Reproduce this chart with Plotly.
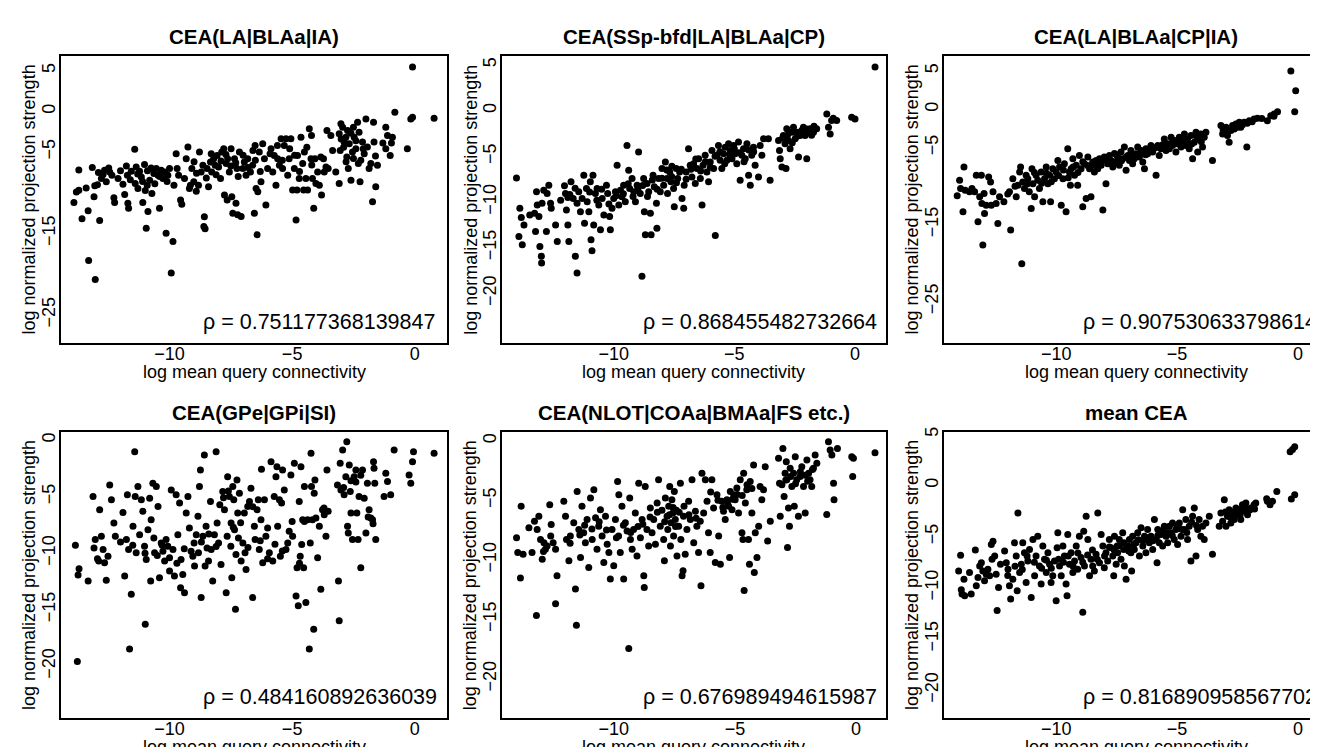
import plotly.graph_objects as go

W, H = 1318, 747

TITLES = ["CEA(LA|BLAa|IA)", "CEA(SSp-bfd|LA|BLAa|CP)", "CEA(LA|BLAa|CP|IA)",
          "CEA(GPe|GPi|SI)", "CEA(NLOT|COAa|BMAa|FS etc.)", "mean CEA"]
RHO = ["0.751177368139847", "0.868455482732664", "0.907530633798614",
       "0.484160892636039", "0.676989494615987", "0.816890958567702"]
X_TITLE = "log mean query connectivity"
Y_TITLE = "log normalized projection strength"
X_TICKS = [-10, -5, 0]
Y_TICKS = [[5, 0, -5, -15, -25], [5, 0, -5, -10, -15, -20], [5, 0, -5, -15, -25],
           [0, -5, -10, -15, -20], [0, -5, -10, -15, -20], [5, 0, -5, -10, -15, -20]]

P1_X = [-13.9,-13.7,-13.8,-13.7,-13.57,-13.32,-13.3,-13.15,-13.08,-13.03,-13.05,-12.94,-12.85,-12.78,-12.71,-12.65,-12.58,-12.48,-12.44,-12.35,-12.27,-12.24,
        -12.1,-11.9,-11.83,-11.76,-11.72,-11.7,-11.67,-11.56,-11.42,-11.4,-11.36,-11.29,-11.22,-11.15,-11.09,-11.02,-10.99,-10.95,-10.91,-10.88,-10.81,-10.75,-10.72,-10.64,-10.54,-10.47,
        -10.41,-10.34,-10.27,-10.2,-10.14,-10.07,-10.0,-9.86,-9.93,-9.82,-9.73,-9.69,-9.63,-9.55,-9.5,-9.39,-9.32,-9.25,-9.19,-9.15,-9.09,-9.01,-8.91,-8.82,-8.78,-8.71,-8.64,-8.6,-8.58,-8.55,-8.47,
        -8.41,-8.33,-8.28,-8.2,-8.14,-8.06,-8.0,-7.92,-7.87,-7.79,-7.76,-7.69,-7.65,-7.63,-7.56,-7.49,-7.46,-7.42,-7.35,-7.29,-7.25,-7.22,-7.15,-7.08,-7.01,-6.95,-6.88,-6.81,-6.7,-6.61,-6.54,-6.51,-6.47,-6.43,-6.4,-6.34,-6.27,
        -6.2,-6.13,-6.07,-6.0,-5.86,-5.79,-5.73,-5.66,-5.59,-5.52,-5.45,-5.39,-5.32,-5.25,-5.18,-5.12,-5.05,-4.98,-4.91,-4.84,-4.8,-4.78,-4.71,-4.64,-4.57,-4.53,-4.5,-4.44,-4.37,-4.3,-4.23,-4.21,-4.17,-4.12,-4.07,
        -4.03,-3.96,-3.89,-3.83,-3.8,-3.72,-3.69,-3.62,-3.58,-3.53,-3.42,-3.35,-3.22,-3.08,-3.08,-3.04,-3.01,-2.94,-2.88,-2.81,-2.74,-2.77,-2.71,-2.67,-2.6,-2.54,-2.5,-2.47,-2.4,-2.33,-2.27,-2.23,
        -2.2,-2.13,-2.06,-1.99,-1.93,-1.86,-1.79,-1.72,-1.68,-1.66,-1.59,-1.52,-1.18,-1.11,-1.0,-0.91,-1.18,-0.81,-0.3,-0.16,-0.09,-0.09,0.79,
        -11.3,-11.1,-10.9,-10.6,-10.4,-10.1,-11.6,-12.0,-12.9,-13.4,-9.0,-8.9,-8.5,-8.3,-8.1,-7.9,-7.7,-7.5,-7.3,-7.2,-7.0,-6.8,-6.6,-6.5,-6.3,
        -5.9,-5.6,-5.4,-5.1,-4.9,-4.7,-4.4,-4.2,-3.0,-2.9,-2.8,-2.6,-2.5,-2.4,-2.3,-2.1,-1.6,-1.3,-0.95]
P1_Y = [-11.2,-7.2,-9.9,-9.7,-13.2,-12.2,-18.3,-6.9,-10.5,-20.65,-9.15,-9.0,-13.4,-8.25,-7.76,-7.24,-8.66,-6.95,-7.44,-7.85,-10.6,-11.2,
        -8.25,-8.94,-10.2,-6.7,-7.85,-11.3,-11.9,-7.36,-4.67,-8.86,-6.83,-9.47,-7.36,-8.05,-11.18,-6.54,-9.72,-14.35,-9.07,-12.3,-8.46,-6.95,-10.1,-7.64,-7.03,-7.85,
        -11.9,-7.24,-8.25,-7.44,-14.96,-7.85,-7.03,-15.98,-19.84,-9.07,-5.2,-7.03,-7.85,-10.9,-11.4,-8.25,-5.81,-4.39,-9.47,-9.07,-7.03,-8.66,-9.8,-9.07,-5.0,-7.44,-6.63,-14.15,-12.93,-14.43,-7.03,
        -9.27,-6.22,-7.44,-5.81,-6.63,-5.41,-6.83,-8.25,-5.0,-4.59,-10.28,-6.42,-10.89,-5.81,-7.44,-4.59,-10.49,-12.5,-5.81,-11.3,-7.03,-12.7,-5.0,-12.9,-7.03,-6.22,-7.85,-5.81,-7.44,-6.63,-12.5,-4.19,-9.47,-15.16,-9.88,-5.0,-8.66,
        -3.98,-5.81,-11.5,-7.03,-4.59,-7.44,-5.41,-9.07,-5.81,-6.63,-3.37,-7.03,-4.19,-3.37,-7.85,-5.81,-3.37,-9.67,-7.03,-13.33,-9.67,-5.41,-8.25,-3.17,-6.42,-9.67,-5.0,-8.25,-9.67,-2.15,-5.81,-2.97,-8.25,-11.9,-5.81,
        -8.86,-7.44,-9.07,-5.61,-10.28,-5.81,-7.44,-6.83,-2.36,-7.03,-2.97,-4.8,-7.44,-2.76,-8.86,-4.8,-1.54,-1.95,-3.78,-3.17,-2.36,-5.61,-7.03,-3.98,-8.46,-5.0,-1.95,-3.17,-4.59,-1.34,-2.56,-8.66,
        -6.02,-3.78,-5.2,-0.93,-4.39,-7.03,-6.42,-11.1,-1.34,-3.78,-9.27,-6.63,-1.95,-2.97,-5.41,-3.17,-4.59,-0.12,-4.59,-0.93,-0.73,5.45,-0.85,
        -7.7,-8.6,-7.3,-8.9,-8.0,-8.6,-8.4,-7.3,-7.5,-9.4,-6.2,-7.6,-8.2,-5.2,-7.8,-6.1,-5.3,-6.7,-6.3,-8.0,-5.4,-6.9,-4.8,-6.0,-7.4,
        -5.2,-4.2,-6.0,-4.6,-5.4,-7.4,-4.4,-6.6,-3.4,-4.4,-6.2,-2.7,-5.8,-3.6,-6.4,-4.6,-5.5,-3.9,-3.9]

P2_X = [-14.03,-13.93,-13.89,-13.83,-13.79,-13.72,-13.48,-13.28,-13.24,-13.2,-13.17,-13.1,-13.06,-13.0,-12.99,-12.97,-12.9,-12.79,-12.76,-12.69,
        -12.62,-12.59,-12.41,-12.34,-12.04,-12.0,-11.96,-11.9,-11.86,-11.82,-11.77,-11.68,-11.59,-11.52,-11.52,-11.45,-11.38,-11.31,-11.24,-11.21,
        -11.13,-11.1,-11.03,-10.97,-10.94,-10.9,-10.86,-10.83,-10.76,-10.69,-10.62,-10.55,-10.48,-10.41,-10.3,-10.25,-10.17,-10.14,-10.07,-10.0,
        -9.93,-9.86,-9.79,-9.72,-9.66,-9.59,-9.52,-9.45,-9.38,-9.34,-9.24,-9.17,-9.1,-9.03,-8.97,-8.9,-8.83,-8.76,-8.73,-8.69,
        -8.62,-8.55,-8.48,-8.45,-8.37,-8.32,-8.23,-8.21,-8.14,-8.07,-8.0,-7.93,-7.86,-7.79,-7.77,-7.68,-7.63,-7.59,-7.52,-7.49,
        -7.41,-7.35,-7.27,-7.17,-7.1,-7.08,-7.0,-6.9,-6.83,-6.76,-6.69,-6.62,-6.55,-6.48,-6.41,-6.34,-6.3,-6.21,-6.14,-6.07,
        -6.0,-5.93,-5.86,-5.79,-5.72,-5.66,-5.59,-5.52,-5.45,-5.38,-5.31,-5.24,-5.17,-5.1,-5.03,-4.97,-4.9,-4.83,-4.76,-4.69,
        -4.62,-4.55,-4.48,-4.41,-4.34,-4.28,-4.21,-4.14,-4.0,-3.93,-3.86,-3.79,-3.59,-3.52,-3.17,-3.13,-3.1,-3.03,-2.97,-2.9,
        -2.86,-2.83,-2.76,-2.69,-2.62,-2.55,-2.48,-2.41,-2.34,-2.28,-2.21,-2.14,-2.07,-2.0,-1.93,-1.86,-1.72,-1.59,-1.17,-1.1,-1.03,-0.97,-0.9,-0.76,-0.14,0.0,0.83,
        -12.2,-11.9,-11.6,-11.0,-10.7,-10.5,-10.2,-9.9,-9.6,-9.4,-9.2,-9.0,-8.8,-8.6,-8.4,-8.2,-8.0,-7.8,-7.6,-7.4,-7.2,-7.0,
        -6.8,-6.6,-6.4,-6.2,-6.0,-5.8,-5.6,-5.4,-5.2,-5.0,-4.8,-4.6,-4.4,-4.2,-3.0,-2.8,-2.6,-2.4,-2.2,-2.0,-1.8,-1.7]
P2_Y = [-7.36,-13.77,-10.69,-11.7,-14.67,-12.5,-11.41,-11.23,-13.22,-8.88,-10.33,-11.59,-14.86,-15.94,-16.67,-10.14,-8.7,-13.22,-9.06,-8.15,
        -10.14,-10.69,-12.5,-14.31,-8.22,-9.06,-10.87,-12.5,-14.31,-9.17,-7.79,-9.6,-15.94,-17.75,-10.14,-8.88,-11.05,-9.6,-7.07,-12.32,
        -8.51,-9.96,-11.05,-7.79,-14.13,-15.33,-7.07,-12.5,-9.06,-8.51,-10.33,-13.04,-9.6,-11.41,-8.15,-9.06,-11.59,-13.04,-10.69,-9.6,
        -8.88,-5.98,-10.33,-8.7,-9.42,-8.15,-9.96,-3.8,-6.52,-8.51,-7.43,-8.88,-9.96,-8.15,-4.53,-9.06,-18.12,-7.43,-11.05,-13.59,
        -7.97,-8.88,-11.23,-13.59,-7.07,-8.33,-10.14,-12.86,-7.43,-8.88,-6.34,-8.15,-5.62,-7.43,-9.06,-6.7,-7.79,-6.07,-8.51,-10.51,
        -6.34,-7.43,-6.7,-9.6,-10.69,-8.15,-6.7,-4.17,-5.98,-7.25,-5.8,-7.97,-6.34,-5.25,-7.43,-10.33,-5.98,-4.89,-6.7,-7.79,
        -5.62,-4.35,-6.34,-13.66,-4.89,-3.8,-5.43,-6.34,-4.71,-3.99,-5.43,-3.62,-4.35,-5.25,-3.8,-4.71,-5.8,-3.44,-7.61,-4.89,
        -4.17,-5.25,-3.62,-7.07,-8.15,-4.89,-3.99,-5.98,-7.25,-3.8,-4.89,-3.08,-3.08,-7.61,-3.26,-4.35,-5.25,-6.16,-2.72,-3.62,
        -6.34,-1.99,-3.26,-4.17,-2.36,-1.81,-3.08,-2.36,-5.07,-2.72,-2.17,-1.81,-2.72,-5.25,-2.36,-1.99,-2.36,-1.99,-0.36,-1.81,-2.54,-1.09,-0.83,-1.09,-0.72,-0.91,4.78,
        -9.8,-9.5,-8.5,-8.9,-9.8,-8.6,-10.2,-9.3,-9.1,-8.0,-9.4,-8.6,-8.2,-9.4,-7.6,-8.6,-7.4,-6.5,-7.2,-7.9,-6.4,-7.5,
        -6.4,-5.3,-6.6,-5.6,-6.2,-5.0,-4.5,-5.8,-4.8,-4.2,-4.6,-5.6,-4.3,-4.5,-3.0,-2.7,-3.5,-2.8,-2.5,-2.0,-2.7,-1.7]

P3_X = [-14.09,-13.99,-13.95,-13.85,-13.81,-13.76,-13.58,-13.48,-13.37,-13.3,-13.23,-13.16,-13.09,-13.07,-13.03,-12.98,-12.96,-12.89,-12.79,-12.71,
        -12.68,-12.61,-12.48,-12.41,-12.34,-12.16,-11.93,-11.88,-11.79,-11.65,-11.58,-11.51,-11.47,-11.42,-11.38,-11.31,-11.24,-11.17,-11.11,-11.03,
        -11.0,-10.96,-10.89,-10.83,-10.76,-10.69,-10.62,-10.55,-10.48,-10.41,-10.34,-10.27,-10.23,-10.14,-10.07,-10.0,-9.93,-9.86,-9.79,-9.72,
        -9.66,-9.59,-9.52,-9.45,-9.41,-9.38,-9.31,-9.24,-9.17,-9.11,-9.04,-8.97,-8.9,-8.83,-8.76,-8.69,-8.62,-8.56,-8.49,-8.42,
        -8.35,-8.28,-8.21,-8.14,-8.07,-8.01,-7.94,-7.87,-7.8,-7.73,-7.66,-7.59,-7.52,-7.46,-7.39,-7.32,-7.25,-7.18,-7.11,-7.04,
        -6.97,-6.91,-6.84,-6.77,-6.7,-6.63,-6.56,-6.49,-6.42,-6.35,-6.29,-6.22,-6.08,-6.01,-5.87,-5.8,-5.74,-5.67,-5.53,-5.46,
        -5.39,-5.32,-5.25,-5.19,-5.12,-5.05,-4.98,-4.91,-4.84,-4.77,-4.7,-4.64,-4.57,-4.5,-4.43,-4.36,-4.29,-4.22,-4.15,-4.09,
        -4.02,-3.95,-3.88,-3.81,-3.54,-3.19,-3.12,-3.05,-2.98,-2.92,-2.85,-2.78,-2.71,-2.64,-2.57,-2.5,-2.43,-2.37,-2.23,-2.12,-2.02,-1.82,-1.68,-1.27,-1.13,-0.99,-0.85,-0.3,-0.14,-0.1,0.77,
        -12.0,-11.7,-11.2,-10.9,-10.6,-10.4,-10.2,-9.9,-9.7,-9.5,-9.3,-9.1,-8.9,-8.7,-8.5,-8.3,-8.1,-7.9,-7.7,-7.5,-7.3,-7.1,-6.9,
        -6.7,-6.5,-6.3,-6.1,-5.9,-5.6,-5.4,-5.2,-5.0,-4.8,-4.6,-4.4,-4.2,-4.0,-3.1,-2.9,-2.7,-2.5,-2.3,-2.1,-1.9,-1.5,-1.0]
P3_Y = [-11.25,-9.22,-10.3,-13.32,-7.5,-10.52,-10.73,-10.3,-10.73,-8.58,-14.61,-11.38,-8.58,-12.24,-17.63,-10.95,-13.53,-12.46,-8.79,-9.44,
        -12.46,-10.73,-12.24,-14.83,-11.38,-12.03,-10.73,-15.69,-9.01,-11.38,-9.87,-8.15,-7.5,-20.09,-9.44,-10.3,-8.58,-9.01,-10.73,-12.89,
        -7.72,-9.66,-11.38,-8.58,-9.22,-10.3,-8.15,-12.03,-9.01,-7.5,-9.66,-8.58,-12.03,-7.72,-9.01,-8.15,-6.64,-7.5,-12.46,-9.01,
        -7.07,-13.32,-5.13,-8.15,-9.87,-7.72,-6.42,-8.58,-7.28,-9.87,-5.99,-7.72,-12.67,-7.07,-11.59,-6.21,-7.72,-11.38,-6.85,-8.15,
        -6.64,-7.72,-6.42,-7.28,-13.1,-6.21,-9.66,-7.07,-5.99,-6.64,-7.5,-5.73,-6.85,-6.21,-7.28,-5.56,-6.42,-4.91,-7.93,-5.99,
        -6.64,-5.34,-7.07,-6.42,-5.78,-4.91,-6.21,-5.34,-6.85,-7.72,-5.13,-5.78,-4.7,-5.56,-8.58,-4.7,-5.99,-5.13,-3.84,-5.34,
        -4.48,-5.13,-3.62,-4.7,-4.05,-5.56,-4.48,-3.62,-4.91,-4.05,-3.19,-4.7,-3.84,-5.13,-3.41,-6.42,-4.27,-2.97,-5.56,-3.84,
        -3.19,-4.91,-3.62,-2.97,-6.64,-2.11,-3.19,-2.54,-2.33,-3.41,-4.27,-2.76,-2.11,-2.54,-1.9,-2.33,-1.68,-2.33,-1.68,-4.91,-1.47,-1.25,-1.16,-1.47,-0.82,-0.6,-0.3,5.0,-0.3,2.41,5.52,
        -11.0,-10.0,-9.7,-8.2,-9.6,-8.3,-9.4,-8.6,-7.9,-8.9,-7.5,-8.2,-6.8,-7.3,-7.3,-7.1,-6.7,-6.5,-7.0,-5.9,-6.7,-6.2,-5.9,
        -6.0,-5.7,-5.9,-5.2,-5.0,-4.6,-4.9,-4.3,-4.1,-4.3,-4.0,-4.5,-3.5,-4.2,-2.7,-2.9,-2.5,-2.0,-2.0,-1.8,-1.6,-1.2,-0.9]

P4_X = [-13.84,-13.76,-13.73,-13.69,-13.32,-13.12,-13.08,-13.03,-12.94,-12.89,-12.85,-12.78,-12.71,-12.65,-12.58,-12.51,-12.44,-12.37,-12.27,-12.21,
        -11.9,-11.83,-11.76,-11.72,-11.67,-11.63,-11.56,-11.49,-11.42,-11.4,-11.36,-11.29,-11.22,-11.15,-11.09,-11.02,-10.99,-10.95,-10.88,-10.81,
        -10.77,-10.75,-10.68,-10.64,-10.61,-10.54,-10.47,-10.41,-10.34,-10.27,-10.2,-10.14,-10.07,-10.0,-9.93,-9.86,-9.8,-9.73,-9.66,-9.59,
        -9.55,-9.53,-9.46,-9.39,-9.32,-9.25,-9.19,-9.12,-9.05,-8.98,-8.91,-8.84,-8.82,-8.78,-8.74,-8.71,-8.64,-8.58,-8.55,-8.51,
        -8.47,-8.41,-8.33,-8.3,-8.24,-8.17,-8.1,-8.06,-8.0,-7.95,-7.9,-7.83,-7.76,-7.69,-7.65,-7.63,-7.56,-7.5,-7.49,-7.46,
        -7.42,-7.38,-7.35,-7.31,-7.29,-7.25,-7.22,-7.19,-7.15,-7.08,-7.01,-6.95,-6.92,-6.88,-6.81,-6.74,-6.68,-6.61,-6.54,-6.51,
        -6.43,-6.38,-6.34,-6.27,-6.25,-6.2,-6.13,-6.07,-6.0,-5.93,-5.86,-5.79,-5.73,-5.66,-5.62,-5.59,-5.52,-5.48,-5.43,-5.39,
        -5.32,-5.25,-5.18,-5.12,-5.05,-4.98,-4.91,-4.84,-4.8,-4.75,-4.71,-4.67,-4.64,-4.61,-4.57,-4.53,-4.5,-4.44,-4.37,-4.3,
        -4.26,-4.23,-4.21,-4.17,-4.12,-4.07,-4.03,-3.96,-3.89,-3.83,-3.76,-3.69,-3.62,-3.58,-3.53,-3.15,-3.11,-3.08,-3.04,-3.01,
        -2.94,-2.88,-2.81,-2.77,-2.74,-2.71,-2.67,-2.63,-2.6,-2.54,-2.47,-2.4,-2.36,-2.31,-2.27,-2.2,-2.13,-2.06,-1.99,-1.93,-1.86,-1.79,-1.72,-1.68,-1.66,-1.63,-1.59,-1.25,-1.18,-1.11,-0.98,-0.84,-0.23,-0.16,-0.09,-0.05,0.79,
        -12.0,-11.5,-11.0,-10.5,-10.3,-10.0,-9.7,-9.4,-9.0,-8.7,-8.4,-8.1,-7.8,-7.6,-7.4,-7.1,-6.8,
        -6.6,-6.3,-6.0,-5.7,-5.4,-5.0,-4.7,-4.5,-4.1,-3.7,-2.9,-2.6,-2.4,-2.2,-1.9,-1.7]
P4_Y = [-9.3,-19.59,-11.94,-11.38,-12.46,-4.99,-9.53,-8.8,-10.5,-10.7,-6.16,-8.5,-9.68,-10.85,-12.4,-10.26,-3.96,-5.28,-7.33,-8.5,
        -6.39,-12.02,-8.8,-4.84,-9.68,-18.48,-13.64,-7.62,-1.03,-4.99,-9.97,-4.11,-8.36,-5.28,-6.3,-9.38,-16.28,-10.56,-7.92,-5.13,
        -12.46,-7.04,-3.81,-8.65,-9.97,-4.11,-5.87,-12.17,-9.09,-9.82,-10.7,-8.8,-9.38,-11.58,-4.4,-9.68,-12.02,-4.84,-8.36,-5.57,
        -13.05,-10.56,-11.88,-13.49,-6.45,-4.99,-7.77,-9.82,-10.26,-11.14,-8.36,-6.74,-9.97,-4.11,-2.64,-13.93,-8.5,-1.32,-11.14,-7.62,
        -9.53,-10.7,-5.43,-9.68,-12.46,-8.36,-1.03,-7.33,-9.09,-5.72,-11.0,-4.55,-6.16,-13.49,-8.5,-3.23,-4.99,-9.38,-7.33,-12.17,
        -4.11,-5.28,-7.92,-14.96,-10.12,-3.52,-6.45,-8.65,-4.69,-10.7,-9.09,-6.45,-9.97,-11.44,-5.87,-5.43,-4.25,-13.93,-7.62,-8.8,
        -6.16,-5.28,-9.68,-7.04,-2.58,-10.85,-5.28,-8.5,-7.77,-9.97,-1.91,-10.7,-4.99,-3.23,-2.35,-7.62,-5.28,-10.26,-5.57,-2.64,
        -4.4,-9.68,-9.09,-8.06,-3.08,-8.5,-2.05,-13.78,-11.29,-14.66,-5.43,-10.26,-2.35,-9.24,-7.04,-11.29,-4.11,-14.37,-7.04,-18.48,
        -9.09,-1.17,-4.11,-7.04,-16.72,-3.52,-6.89,-10.41,-7.62,-13.2,-6.16,-6.6,-8.5,-2.64,-6.3,-3.96,-12.46,-15.98,-2.05,-4.4,
        -0.88,-4.84,-3.23,-0.15,-7.62,-8.21,-2.2,-4.55,-6.45,-8.8,-3.23,-2.64,-6.45,-8.8,-4.99,-11.29,-2.64,-5.13,-8.21,-3.81,-6.16,-6.89,-7.04,-1.91,-2.49,-3.81,-8.8,-4.99,-2.93,-3.67,-4.84,-0.88,-3.08,-3.81,-1.91,-1.03,-1.17,
        -9.0,-9.3,-10.0,-10.2,-9.3,-10.4,-10.9,-9.6,-9.1,-9.0,-8.3,-9.4,-5.1,-4.5,-7.7,-7.3,-9.5,
        -5.9,-8.9,-10.5,-9.2,-9.8,-7.2,-10.9,-7.2,-4.7,-6.0,-4.2,-3.6,-3.7,-3.1,-6.8,-7.4]

P5_X = [-14.01,-13.96,-13.85,-13.82,-13.74,-13.5,-13.37,-13.27,-13.19,-13.16,-13.09,-13.02,-12.95,-12.88,-12.82,-12.75,-12.64,-12.58,-12.5,-12.4,
        -12.34,-12.4,-12.06,-11.99,-11.95,-11.85,-11.79,-11.65,-11.58,-11.54,-11.51,-11.44,-11.37,-11.31,-11.24,-11.17,-11.1,-11.03,-10.96,-10.89,
        -10.82,-10.75,-10.69,-10.62,-10.55,-10.48,-10.41,-10.34,-10.27,-10.2,-10.14,-10.07,-10.0,-9.93,-9.89,-9.84,-9.79,-9.73,-9.66,-9.59,
        -9.52,-9.45,-9.38,-9.34,-9.31,-9.24,-9.18,-9.11,-9.04,-8.97,-8.9,-8.83,-8.76,-8.74,-8.7,-8.63,-8.56,-8.49,-8.42,-8.35,
        -8.28,-8.21,-8.15,-8.08,-8.01,-7.94,-7.91,-7.87,-7.8,-7.77,-7.73,-7.69,-7.66,-7.64,-7.6,-7.56,-7.53,-7.5,-7.46,-7.42,
        -7.39,-7.32,-7.25,-7.23,-7.18,-7.14,-7.12,-7.05,-6.98,-6.91,-6.84,-6.77,-6.7,-6.63,-6.57,-6.5,-6.43,-6.4,-6.36,-6.29,
        -6.22,-6.15,-6.09,-6.02,-5.95,-5.88,-5.81,-5.74,-5.67,-5.6,-5.54,-5.47,-5.4,-5.33,-5.26,-5.22,-5.19,-5.12,-5.05,-4.99,
        -4.92,-4.85,-4.78,-4.71,-4.67,-4.64,-4.62,-4.57,-4.51,-4.44,-4.4,-4.37,-4.3,-4.23,-4.2,-4.16,-4.09,-4.02,-3.96,-3.89,
        -3.82,-3.75,-3.65,-3.54,-3.2,-3.16,-3.13,-3.06,-3.02,-2.97,-2.93,-2.88,-2.86,-2.83,-2.79,-2.75,-2.72,-2.65,-2.58,-2.55,
        -2.51,-2.45,-2.38,-2.31,-2.24,-2.17,-2.1,-2.03,-1.96,-1.9,-1.83,-1.76,-1.69,-1.62,-1.21,-1.14,-1.07,-1.0,-0.93,-0.91,-0.77,-0.18,-0.14,-0.11,0.78,
        -12.9,-12.6,-11.8,-11.4,-11.2,-10.9,-10.6,-10.3,-9.8,-9.6,-9.3,-9.0,-8.8,-8.5,-8.2,-7.9,-7.7,-7.55,-7.45,-7.3,
        -7.1,-6.9,-6.6,-6.0,-5.7,-5.5,-5.3,-5.1,-4.9,-4.7,-4.5,-4.3,-2.9,-2.7,-2.5,-2.3,-2.1,-2.0,-1.8]
P5_Y = [-8.14,-9.39,-11.53,-5.5,-9.53,-7.31,-9.39,-6.75,-14.67,-7.44,-6.33,-8.28,-9.94,-8.56,-9.11,-8.83,-5.36,-7.03,-8.56,-9.11,
        -11.33,-13.69,-5.08,-6.33,-8.28,-10.08,-8.0,-6.89,-12.44,-15.5,-4.25,-7.44,-9.81,-5.5,-7.72,-8.56,-6.61,-10.64,-4.81,-8.28,
        -4.11,-6.47,-9.11,-7.17,-5.78,-8.0,-10.22,-6.33,-8.69,-9.39,-11.61,-7.44,-10.5,-6.61,-8.14,-3.42,-4.53,-9.39,-5.5,-11.61,
        -6.89,-7.58,-17.44,-4.81,-8.28,-9.11,-7.44,-6.06,-9.67,-3.56,-8.14,-6.61,-11.33,-12.31,-3.83,-7.44,-8.83,-5.64,-7.72,-6.61,
        -8.69,-5.22,-3.28,-7.17,-5.83,-8.28,-10.08,-4.81,-6.33,-7.44,-5.5,-3.83,-8.83,-6.89,-4.94,-6.06,-8.0,-4.25,-6.61,-5.83,
        -9.67,-7.17,-3.56,-8.28,-11.33,-10.92,-6.33,-9.53,-7.44,-5.08,-6.61,-3.28,-8.56,-5.92,-7.17,-9.39,-6.75,-12.17,-2.72,-6.06,
        -3.28,-5.08,-7.72,-9.39,-3.28,-5.64,-10.22,-4.53,-8.0,-10.36,-5.08,-5.92,-6.61,-4.94,-5.5,-9.81,-4.25,-5.78,-4.53,-4.94,
        -3.97,-6.06,-3.28,-7.72,-8.28,-2.72,-12.58,-5.22,-4.11,-8.28,-10.36,-3.42,-6.06,-2.03,-11.06,-7.72,-9.81,-7.17,-3.83,-4.94,
        -4.11,-2.17,-8.42,-6.75,-1.47,-3.56,-6.33,-3.69,-0.64,-4.67,-2.72,-1.75,-3.28,-8.97,-5.64,-7.17,-2.31,-3.83,-2.72,-5.5,
        -1.33,-3.28,-6.33,-3.0,-2.17,-3.83,-6.06,-1.61,-2.72,-3.28,-3.83,-2.31,-1.19,-1.89,-6.19,-0.08,-0.78,-1.19,-3.56,-4.94,-0.64,-1.33,-3.0,-1.47,-1.0,
        -9.3,-8.0,-8.6,-7.9,-7.1,-7.4,-6.8,-7.5,-8.0,-7.1,-7.7,-7.2,-7.0,-6.4,-6.0,-6.8,-6.2,-5.6,-7.2,-6.0,
        -5.5,-6.2,-6.5,-4.3,-5.0,-5.6,-5.3,-4.9,-4.5,-4.6,-3.7,-4.0,-3.3,-3.0,-3.6,-2.6,-2.9,-3.4,-2.4]

P6_X = [-14.03,-13.95,-13.92,-13.89,-13.81,-13.78,-13.58,-13.51,-13.34,-13.3,-13.23,-13.16,-13.09,-13.03,-12.96,-12.89,-12.82,-12.75,-12.68,-12.65,
        -12.61,-12.54,-12.48,-12.44,-12.38,-12.13,-12.06,-11.99,-11.93,-11.88,-11.79,-11.72,-11.65,-11.61,-11.58,-11.51,-11.44,-11.38,-11.31,-11.24,
        -11.17,-11.1,-11.03,-10.96,-10.89,-10.83,-10.76,-10.69,-10.62,-10.55,-10.48,-10.41,-10.34,-10.27,-10.21,-10.14,-10.07,-10.0,-9.96,-9.93,
        -9.86,-9.79,-9.72,-9.66,-9.59,-9.55,-9.52,-9.45,-9.38,-9.31,-9.24,-9.17,-9.11,-9.04,-8.97,-8.9,-8.86,-8.83,-8.76,-8.69,
        -8.62,-8.56,-8.49,-8.42,-8.35,-8.28,-8.21,-8.14,-8.07,-8.01,-7.94,-7.87,-7.8,-7.73,-7.66,-7.62,-7.59,-7.52,-7.48,-7.46,
        -7.39,-7.32,-7.25,-7.21,-7.18,-7.11,-7.04,-6.97,-6.91,-6.88,-6.84,-6.77,-6.7,-6.63,-6.56,-6.49,-6.42,-6.35,-6.29,-6.22,
        -6.15,-6.08,-6.01,-5.94,-5.87,-5.83,-5.8,-5.74,-5.67,-5.6,-5.53,-5.46,-5.39,-5.32,-5.25,-5.19,-5.12,-5.05,-4.98,-4.91,
        -4.84,-4.77,-4.7,-4.64,-4.57,-4.5,-4.43,-4.36,-4.29,-4.22,-4.15,-4.09,-4.02,-3.95,-3.88,-3.81,-3.67,-3.54,-3.26,-3.19,
        -3.12,-3.05,-2.98,-2.92,-2.85,-2.78,-2.71,-2.64,-2.57,-2.5,-2.43,-2.37,-2.3,-2.23,-2.16,-2.09,-1.95,-1.82,-1.75,-1.27,-1.16,-1.06,-0.88,-0.28,-0.14,-0.33,-0.23,-0.14,0.8,
        -12.3,-12.0,-11.7,-11.4,-11.2,-10.9,-10.6,-10.4,-10.2,-9.9,-9.7,-9.5,-9.3,-9.1,-8.9,-8.7,-8.5,-8.3,-8.0,-7.8,-7.6,-7.4,-7.2,
        -7.0,-6.8,-6.6,-6.4,-6.2,-6.0,-5.8,-5.6,-5.4,-5.2,-5.0,-4.8,-4.6,-4.4,-4.2,-3.0,-2.8,-2.6,-2.4,-2.2,-2.0,-1.8,-1.3]
P6_Y = [-8.35,-6.83,-10.19,-10.61,-9.16,-10.78,-8.51,-10.61,-6.31,-9.81,-9.0,-7.86,-7.54,-8.35,-9.32,-8.67,-8.19,-8.83,-5.76,-7.22,
        -5.44,-6.89,-8.67,-12.23,-9.97,-6.41,-7.54,-8.19,-9.81,-11.1,-9.16,-5.6,-6.89,-10.29,-2.69,-8.51,-7.7,-5.6,-6.57,-9.48,
        -7.38,-6.25,-10.94,-5.28,-8.83,-6.89,-4.95,-7.86,-9.64,-5.92,-7.22,-8.51,-6.57,-7.7,-9.48,-8.83,-7.38,-11.26,-6.08,-4.63,
        -7.86,-8.83,-5.92,-6.89,-9.64,-10.78,-4.79,-7.7,-6.57,-8.51,-7.38,-5.92,-8.19,-4.95,-7.05,-12.39,-4.47,-7.86,-3.01,-5.28,
        -8.83,-7.22,-7.86,-8.35,-6.73,-2.69,-7.54,-4.79,-5.92,-8.03,-6.57,-7.38,-5.28,-6.08,-6.89,-8.83,-4.95,-7.7,-5.92,-6.57,
        -5.28,-7.22,-4.63,-6.25,-7.86,-9.16,-5.92,-5.28,-6.57,-8.35,-4.95,-6.25,-5.6,-4.63,-6.89,-4.14,-5.92,-4.95,-6.57,-4.3,
        -5.6,-4.95,-6.25,-3.33,-5.28,-7.54,-4.3,-5.6,-4.79,-5.92,-3.98,-4.95,-5.6,-3.98,-4.63,-3.66,-5.28,-4.3,-5.76,-3.66,
        -4.95,-2.36,-4.3,-3.33,-5.28,-3.98,-7.38,-3.01,-2.2,-6.89,-4.3,-3.33,-4.95,-3.98,-5.28,-3.66,-3.01,-6.73,-3.98,-2.69,
        -3.5,-1.39,-3.98,-3.01,-2.36,-3.66,-2.69,-3.33,-2.2,-2.85,-2.36,-3.33,-1.88,-2.52,-1.72,-2.85,-2.2,-1.88,-1.72,-1.55,-1.88,-1.55,-0.58,-1.33,-0.91,3.3,3.53,3.79,4.21,
        -7.7,-8.8,-7.9,-8.2,-6.9,-7.5,-8.1,-7.3,-8.1,-7.2,-7.5,-6.9,-7.9,-6.6,-7.5,-6.8,-6.3,-7.2,-6.9,-6.0,-6.3,-5.9,-5.6,
        -6.4,-5.8,-5.3,-5.4,-5.1,-5.4,-4.9,-4.4,-4.6,-4.9,-4.0,-4.3,-4.6,-3.6,-3.9,-2.6,-3.1,-2.5,-2.9,-2.2,-2.4,-2.3,-1.3]

SERIES = [(P1_X, P1_Y), (P2_X, P2_Y), (P3_X, P3_Y), (P4_X, P4_Y), (P5_X, P5_Y), (P6_X, P6_Y)]

# layout geometry (pixels): box left, right, top, bottom; axis ranges
BOXES = [(53, 440, 43.3, 332.3), (495, 879, 43.3, 332.3), (937.3, 1318, 43.3, 332.3),
         (53, 440, 421.7, 710), (495, 879, 421.7, 710), (937.3, 1318, 421.7, 710)]
X_RANGES = [[-14.43, 1.33], [-14.62, 1.27], [-14.64, 1.07],
            [-14.43, 1.33], [-14.6, 1.22], [-14.64, 1.07]]
Y_RANGES = [[-28.45, 6.79], [-25.43, 5.98], [-30.4, 6.94],
            [-24.6, 0.73], [-23.3, 0.75], [-22.75, 5.24]]
RHO_RIGHT = [430, 872, 1313, 432, 872, 1313]

FONT = "Liberation Sans, Arial, sans-serif"
fig = go.Figure()
annotations = []
for i, ((xs, ys), (l, r, t, b)) in enumerate(zip(SERIES, BOXES)):
    assert len(xs) == len(ys), (i, len(xs), len(ys))
    k = "" if i == 0 else str(i + 1)
    fig.add_trace(go.Scatter(x=xs, y=ys, mode="markers", xaxis="x" + k, yaxis="y" + k,
                             marker=dict(color="black", size=7, line=dict(width=0)),
                             showlegend=False, hoverinfo="skip"))
    common = dict(showline=True, mirror=True, linecolor="black", linewidth=2,
                  showgrid=False, zeroline=False, ticks="",
                  tickfont=dict(family=FONT, size=18, color="black"))
    fig.update_layout(**{
        "xaxis" + k: dict(common, domain=[l / W, min(r / W, 1.0)], range=X_RANGES[i],
                          anchor="y" + k, tickvals=X_TICKS, ticklabelstandoff=-7),
        "yaxis" + k: dict(common, domain=[1 - b / H, 1 - t / H], range=Y_RANGES[i],
                          anchor="x" + k, tickvals=Y_TICKS[i], tickangle=-90,
                          ticklabelstandoff=-3),
    })
    cx = (l + (r if r < W else 1323)) / 2
    top_title_y = 24 if i < 3 else 401.7
    xlab_y = 361 if i < 3 else 739
    annotations += [
        dict(text="<b>%s</b>" % TITLES[i], x=cx / W, y=1 - top_title_y / H, xref="paper", yref="paper",
             xanchor="center", yanchor="middle", showarrow=False,
             font=dict(family=FONT, size=20.5, color="black")),
        dict(text=X_TITLE, x=cx / W, y=1 - xlab_y / H, xref="paper", yref="paper",
             xanchor="center", yanchor="middle", showarrow=False,
             font=dict(family=FONT, size=18, color="black")),
        dict(text=Y_TITLE, x=(l - 32) / W, y=1 - (t + b) / 2 / H, xref="paper", yref="paper",
             xanchor="center", yanchor="middle", showarrow=False, textangle=-90,
             font=dict(family=FONT, size=18, color="black")),
        dict(text="\u03c1 = " + RHO[i], x=RHO_RIGHT[i] / W, y=1 - ((311 if i < 3 else 689)) / H,
             xref="paper", yref="paper", xanchor="right", yanchor="middle", showarrow=False,
             font=dict(family=FONT, size=21.5, color="black")),
    ]

fig.update_layout(width=W, height=H, margin=dict(l=0, r=0, t=0, b=0),
                  paper_bgcolor="white", plot_bgcolor="white", annotations=annotations)
fig.write_html("out.html")
